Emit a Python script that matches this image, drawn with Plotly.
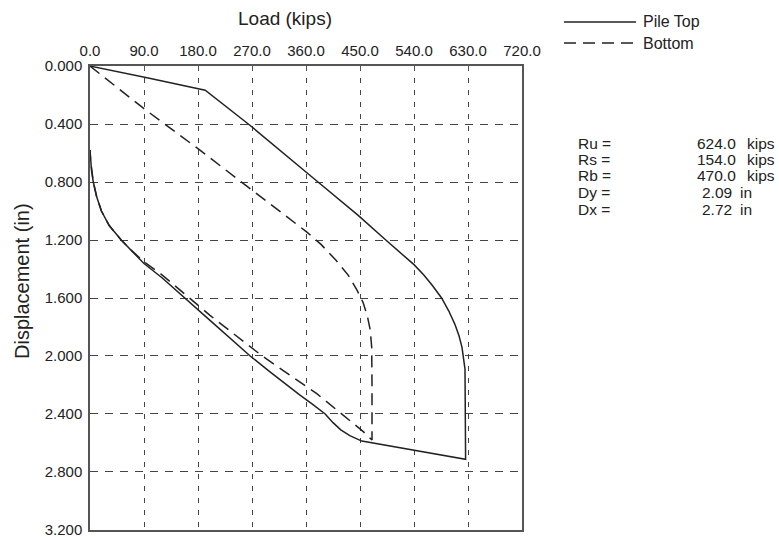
import plotly.graph_objects as go

# ---- data ----
top_load = [0, 95, 192, 267, 380, 447, 493, 540, 556, 570, 586, 598, 608, 615, 620, 622, 624, 625, 626,
            453, 433, 418, 405, 392, 370, 350, 300, 267, 200, 158, 120, 90, 70, 52, 32, 19, 11, 5.5, 2.5, 1, 0]
top_disp = [0, 0.08, 0.167, 0.41, 0.80, 1.03, 1.20, 1.37, 1.44, 1.51, 1.60, 1.69, 1.78, 1.86, 1.94, 2.005, 2.06, 2.09, 2.713,
            2.587, 2.55, 2.51, 2.46, 2.40, 2.33, 2.27, 2.11, 2.00, 1.754, 1.60, 1.46, 1.362, 1.28, 1.20, 1.10, 1.00, 0.90, 0.80, 0.72, 0.65, 0.58]

bot_load = [0, 90, 180, 270, 361, 385, 410, 430, 445, 455, 462, 467, 469.5, 470, 470,
            455, 419, 378, 287, 200, 160, 120, 90, 70, 52, 32, 19, 11, 5.5, 2.5, 1, 0]
bot_disp = [0, 0.294, 0.57, 0.857, 1.144, 1.23, 1.34, 1.44, 1.546, 1.63, 1.72, 1.82, 1.94, 2.2, 2.58,
            2.52, 2.40, 2.26, 2.00, 1.72, 1.58, 1.44, 1.35, 1.275, 1.20, 1.10, 1.00, 0.90, 0.80, 0.72, 0.65, 0.58]

x_ticks = [0, 90, 180, 270, 360, 450, 540, 630, 720]
y_ticks = [0, 0.4, 0.8, 1.2, 1.6, 2.0, 2.4, 2.8, 3.2]

x_title = "Load (kips)"
y_title = "Displacement (in)"

stat_labels = ["Ru =", "Rs =", "Rb =", "Dy =", "Dx ="]
stat_values = ["624.0", "154.0", "470.0", "2.09", "2.72"]
stat_units = ["kips", "kips", "kips", "in", "in"]

series_names = ["Pile Top", "Bottom"]

# ---- figure ----
W, H = 779, 537
L, R, T, B = 90, 257, 66, 7
PW, PH = W - L - R, H - T - B
ink = "#222222"
font = "Liberation Sans, Arial, sans-serif"


def px(x):
    return (x - L) / PW


def py(y):
    return (H - B - y) / PH


fig = go.Figure()
fig.add_trace(go.Scatter(x=top_load, y=top_disp, mode="lines", name=series_names[0],
                         line=dict(color=ink, width=1.5), showlegend=False, hoverinfo="skip"))
fig.add_trace(go.Scatter(x=bot_load, y=bot_disp, mode="lines", name=series_names[1],
                         line=dict(color=ink, width=1.5, dash="12px,7px"), showlegend=False, hoverinfo="skip"))

grid_col = "#444444"
fig.update_xaxes(range=[0, 720], side="top", tickvals=x_ticks, tickformat=".1f",
                 showgrid=True, gridcolor=grid_col, gridwidth=1, griddash="5px,7px",
                 showline=True, mirror=True, linecolor="#555555", linewidth=1.5,
                 ticks="inside", ticklen=4, tickcolor="#555555", zeroline=False,
                 ticklabelstandoff=2, ticklabeloverflow="allow",
                 tickfont=dict(size=15, color=ink, family=font))
fig.update_yaxes(range=[3.2005, -0.0005], tickvals=y_ticks, tickformat=".3f",
                 showgrid=True, gridcolor=grid_col, gridwidth=1, griddash="8px,7px",
                 showline=True, mirror=True, linecolor="#555555", linewidth=1.5,
                 ticks="", zeroline=False, ticklabelstandoff=3, ticklabeloverflow="allow",
                 tickfont=dict(size=15, color=ink, family=font))

# axis titles (offset from plot centre as in the reference)
fig.add_annotation(xref="paper", yref="paper", x=px(285), y=py(18.5), text=x_title, showarrow=False,
                   xanchor="center", yanchor="middle", font=dict(size=19, color=ink, family=font))
fig.add_annotation(xref="paper", yref="paper", x=px(22), y=py(281), text=y_title, showarrow=False,
                   textangle=-90, xanchor="center", yanchor="middle", font=dict(size=20, color=ink, family=font))

# manual legend
leg_y = [22, 43]
leg_dash = ["solid", "12px,7px"]
for name, yy, dsh in zip(series_names, leg_y, leg_dash):
    fig.add_shape(type="line", xref="paper", yref="paper", x0=px(564), x1=px(636), y0=py(yy), y1=py(yy),
                  line=dict(color=ink, width=1.5, dash=dsh))
    fig.add_annotation(xref="paper", yref="paper", x=px(641), y=py(yy), text=name, showarrow=False,
                       xanchor="left", yanchor="middle", font=dict(size=16, color=ink, family=font))

# stats block
row_y = [143, 159, 176, 192, 209]
for lab, val, unit, yy in zip(stat_labels, stat_values, stat_units, row_y):
    fig.add_annotation(xref="paper", yref="paper", x=px(576), y=py(yy), text=lab, showarrow=False,
                       xanchor="left", yanchor="middle", font=dict(size=15.5, color=ink, family=font))
    vx = 738 if unit == "kips" else 734
    ux = 745 if unit == "kips" else 738
    fig.add_annotation(xref="paper", yref="paper", x=px(vx), y=py(yy), text=val, showarrow=False,
                       xanchor="right", yanchor="middle", font=dict(size=15.5, color=ink, family=font))
    fig.add_annotation(xref="paper", yref="paper", x=px(ux), y=py(yy), text=unit, showarrow=False,
                       xanchor="left", yanchor="middle", font=dict(size=15.5, color=ink, family=font))

fig.update_layout(width=W, height=H, margin=dict(l=L, r=R, t=T, b=B, autoexpand=False),
                  paper_bgcolor="white", plot_bgcolor="white", showlegend=False, hovermode=False,
                  font=dict(family=font, color=ink))

fig.write_html("out.html", config={"displayModeBar": False},
               post_script="document.body.style.margin='0';document.body.style.overflow='hidden';")
